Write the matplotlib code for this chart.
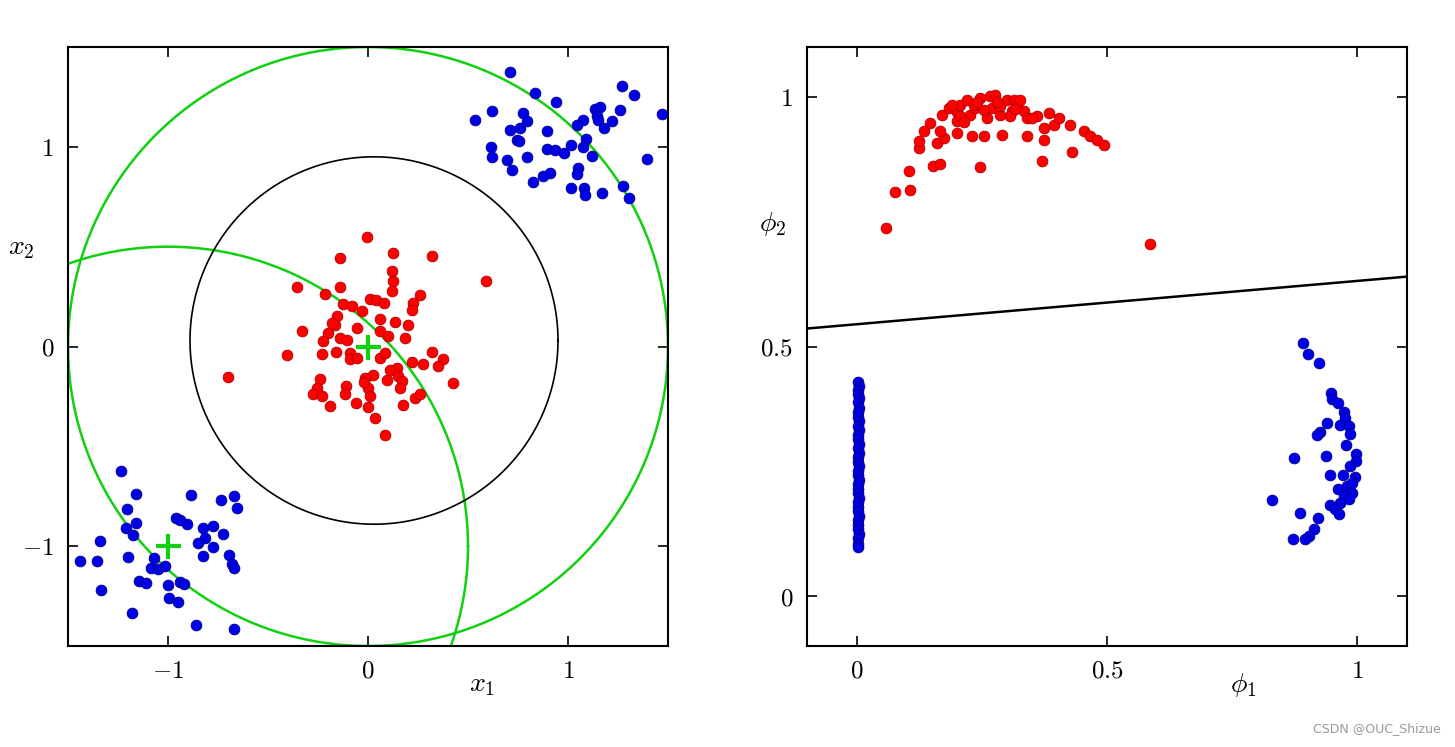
import matplotlib.pyplot as plt
import numpy as np

plt.rcParams['mathtext.fontset'] = 'cm'
plt.rcParams['font.family'] = 'DejaVu Serif'

# left panel: original input space (x1, x2)
red_x = [-0.007, -0.14, 0.127, 0.32, 0.588, 0.118, 0.123, 0.118, -0.357, -0.14,
         -0.215, 0.01, 0.04, 0.082, -0.123, -0.082, -0.032, 0.26, 0.227, 0.218,
         -0.157, -0.165, -0.057, 0.06, 0.135, 0.202, 0.06, 0.102, 0.185, -0.332,
         -0.198, -0.223, -0.14, -0.107, -0.407, -0.232, -0.162, -0.09, -0.09, -0.057,
         0.06, 0.085, 0.322, 0.377, 0.352, 0.218, 0.277, 0.143, 0.152, 0.168,
         0.16, 0.093, 0.027, -0.015, 0.002, 0.01, -0.11, -0.115, -0.24, -0.257,
         -0.273, -0.232, -0.19, -0.06, 0.002, 0.035, 0.085, 0.173, 0.235, 0.26,
         0.423, -0.7, -0.02, 0.11, -0.18]
red_y = [0.547, 0.443, 0.468, 0.455, 0.33, 0.38, 0.327, 0.277, 0.30, 0.298,
         0.265, 0.24, 0.235, 0.217, 0.213, 0.205, 0.18, 0.257, 0.218, 0.185,
         0.152, 0.11, 0.093, 0.14, 0.123, 0.11, 0.08, 0.052, 0.043, 0.08,
         0.068, 0.027, 0.043, 0.035, -0.043, -0.04, -0.027, -0.032, -0.065, -0.057,
         -0.057, -0.032, -0.027, -0.065, -0.098, -0.078, -0.09, -0.107, -0.148, -0.173,
         -0.207, -0.17, -0.143, -0.157, -0.207, -0.248, -0.198, -0.24, -0.165, -0.207,
         -0.24, -0.248, -0.298, -0.285, -0.303, -0.357, -0.443, -0.293, -0.26, -0.237,
         -0.185, -0.155, -0.18, -0.12, 0.12]

blue_x = [0.71, 0.835, 0.938, 1.272, 1.332, 1.468, 0.535, 0.622, 0.773, 0.793,
          0.76, 0.71, 0.743, 0.897, 1.135, 1.16, 1.143, 1.152, 1.26, 1.222,
          1.18, 1.073, 1.043, 1.09, 0.613, 0.618, 0.693, 0.722, 0.793, 0.893,
          0.935, 0.98, 1.015, 1.077, 1.118, 1.052, 1.043, 0.91, 0.877, 0.827,
          1.015, 1.08, 1.085, 1.168, 1.397, 1.277, 1.305, 0.755,
          -1.233, -1.158, -0.887, -0.737, -0.67, -0.655, -1.203, -1.158, -0.958, -0.905,
          -1.208, -1.175, -0.825, -0.775, -0.725, -0.813, -0.85, -0.775, -1.342, -1.442,
          -1.353, -1.2, -1.07, -0.825, -0.695, -0.68, -0.67, -1.087, -1.05, -1.017,
          -1.145, -1.108, -1.0, -0.942, -0.92, -1.333, -0.995, -0.95, -1.178, -0.858,
          -0.672, -0.94]
blue_y = [1.377, 1.272, 1.227, 1.307, 1.258, 1.165, 1.132, 1.177, 1.168, 1.127,
          1.093, 1.085, 1.035, 1.08, 1.188, 1.198, 1.152, 1.132, 1.185, 1.13,
          1.093, 1.135, 1.107, 1.04, 0.998, 0.948, 0.932, 0.885, 0.947, 0.988,
          0.982, 0.968, 1.01, 0.998, 0.955, 0.893, 0.865, 0.868, 0.852, 0.822,
          0.793, 0.793, 0.76, 0.768, 0.938, 0.802, 0.743, 1.03,
          -0.623, -0.74, -0.745, -0.768, -0.748, -0.807, -0.815, -0.882, -0.857, -0.89,
          -0.907, -0.945, -0.907, -0.898, -0.94, -0.957, -0.982, -1.002, -0.973, -1.073,
          -1.073, -1.053, -1.057, -1.048, -1.045, -1.09, -1.107, -1.107, -1.115, -1.098,
          -1.173, -1.182, -1.195, -1.178, -1.19, -1.218, -1.262, -1.282, -1.335, -1.395,
          -1.415, -0.87]

centres_x = [0.0, -1.0]
centres_y = [0.0, -1.0]
basis_radius = 1.5
boundary_cx, boundary_cy, boundary_r = 0.03, 0.03, 0.92

# right panel: feature space (phi1, phi2)
red_p1 = [0.058, 0.076, 0.105, 0.103, 0.151, 0.166, 0.245, 0.369, 0.429, 0.586,
          0.123, 0.123, 0.133, 0.146, 0.159, 0.173, 0.166, 0.169, 0.183, 0.199,
          0.199, 0.199, 0.206, 0.219, 0.229, 0.253, 0.226, 0.236, 0.246, 0.259,
          0.266, 0.269, 0.276, 0.286, 0.289, 0.299, 0.309, 0.313, 0.319, 0.326,
          0.333, 0.339, 0.339, 0.359, 0.373, 0.373, 0.383, 0.393, 0.403, 0.426,
          0.453, 0.466, 0.479, 0.493, 0.349, 0.189, 0.286, 0.306, 0.253, 0.233,
          0.206, 0.213, 0.239, 0.279, 0.316]
red_p2 = [0.737, 0.809, 0.814, 0.851, 0.862, 0.865, 0.859, 0.872, 0.889, 0.705,
          0.897, 0.911, 0.931, 0.947, 0.907, 0.917, 0.931, 0.964, 0.977, 0.927,
          0.951, 0.97, 0.984, 0.994, 0.921, 0.921, 0.964, 0.977, 0.997, 0.957,
          1.001, 0.977, 1.004, 0.964, 0.924, 0.994, 0.971, 0.994, 0.984, 0.994,
          0.971, 0.921, 0.957, 0.961, 0.937, 0.914, 0.967, 0.944, 0.957, 0.943,
          0.931, 0.921, 0.914, 0.904, 0.957, 0.984, 0.981, 0.961, 0.974, 0.984,
          0.961, 0.95, 0.99, 0.99, 0.975]

blue_p1 = [0.891, 0.901, 0.923, 0.947, 0.949, 0.961, 0.973, 0.976, 0.966, 0.983,
           0.986, 0.939, 0.926, 0.919, 0.978, 0.998, 0.998, 0.873, 0.938, 0.946,
           0.971, 0.996, 0.961, 0.979, 0.989, 0.973, 0.983, 0.966, 0.946, 0.956,
           0.963, 0.829, 0.886, 0.921, 0.913, 0.903, 0.896, 0.871, 0.985, 0.99,
           0.002, 0.003, 0.002, 0.001, 0.003, 0.002, 0.004, 0.002, 0.001, 0.003,
           0.002, 0.003, 0.001, 0.002, 0.004, 0.002, 0.003, 0.001, 0.002, 0.003,
           0.002, 0.001, 0.003, 0.002, 0.001, 0.002, 0.003, 0.002, 0.001, 0.002,
           0.003, 0.002, 0.001, 0.002, 0.003, 0.002, 0.002, 0.001]
blue_p2 = [0.507, 0.484, 0.467, 0.407, 0.394, 0.387, 0.369, 0.357, 0.342, 0.341,
           0.324, 0.347, 0.329, 0.322, 0.302, 0.284, 0.271, 0.277, 0.281, 0.242,
           0.242, 0.239, 0.215, 0.221, 0.207, 0.201, 0.194, 0.187, 0.182, 0.174,
           0.164, 0.193, 0.167, 0.157, 0.134, 0.121, 0.114, 0.115, 0.26, 0.226,
           0.428, 0.42, 0.412, 0.405, 0.396, 0.388, 0.376, 0.368, 0.359, 0.35,
           0.341, 0.332, 0.323, 0.314, 0.305, 0.296, 0.287, 0.278, 0.269, 0.26,
           0.251, 0.242, 0.233, 0.224, 0.215, 0.206, 0.197, 0.188, 0.179, 0.17,
           0.161, 0.152, 0.143, 0.134, 0.125, 0.116, 0.104, 0.098]

# decision boundary in feature space
line_p1 = [-0.1, 1.1]
line_p2 = [0.536, 0.64]

left_ticks = [-1, 0, 1]
left_labels = [r'$-1$', r'$0$', r'$1$']
right_ticks = [0, 0.5, 1]
right_labels = [r'$0$', r'$0.5$', r'$1$']

red = '#ff0000'
blue = '#0000e6'
green = '#10d010'
dot = dict(s=60, linewidths=0.6, zorder=3)

fig = plt.figure(figsize=(14.55, 7.47), dpi=100)
ax1 = fig.add_axes([68 / 1455, 101 / 747, 600 / 1455, 599 / 747])
ax2 = fig.add_axes([807 / 1455, 101 / 747, 600 / 1455, 599 / 747])

t = np.linspace(0, 2 * np.pi, 400)
for cx, cy in zip(centres_x, centres_y):
    ax1.plot(cx + basis_radius * np.cos(t), cy + basis_radius * np.sin(t),
             color=green, lw=1.8, zorder=2)
ax1.plot(boundary_cx + boundary_r * np.cos(t), boundary_cy + boundary_r * np.sin(t),
         color='black', lw=1.2, zorder=2)
ax1.scatter(red_x, red_y, c=red, edgecolors='#b00000', **dot)
ax1.scatter(blue_x, blue_y, c=blue, edgecolors='#00008a', **dot)
ax1.plot(centres_x, centres_y, '+', color=green, ms=18, mew=3, ls='none', zorder=4)
ax1.set_xlim(-1.5, 1.5)
ax1.set_ylim(-1.5, 1.5)
ax1.set_xticks(left_ticks)
ax1.set_yticks(left_ticks)
ax1.set_xticklabels(left_labels)
ax1.set_yticklabels(left_labels)

ax2.plot(line_p1, line_p2, color='black', lw=1.8, zorder=2)
ax2.scatter(red_p1, red_p2, c=red, edgecolors='#b00000', **dot)
ax2.scatter(blue_p1, blue_p2, c=blue, edgecolors='#00008a', **dot)
ax2.set_xlim(-0.1, 1.1)
ax2.set_ylim(-0.1, 1.1)
ax2.set_xticks(right_ticks)
ax2.set_yticks(right_ticks)
ax2.set_xticklabels(right_labels)
ax2.set_yticklabels(right_labels)

for ax in (ax1, ax2):
    ax.tick_params(direction='in', top=True, right=True, length=7, width=1.2,
                   labelsize=18, pad=10)
    for s in ax.spines.values():
        s.set_linewidth(1.5)

ax1.text(0.69, -0.065, r'$x_1$', transform=ax1.transAxes, fontsize=20,
         ha='center', va='center')
ax1.text(-0.077, 0.665, r'$x_2$', transform=ax1.transAxes, fontsize=20,
         ha='center', va='center')
ax2.text(0.727, -0.065, r'$\phi_1$', transform=ax2.transAxes, fontsize=20,
         ha='center', va='center')
ax2.text(-0.058, 0.705, r'$\phi_2$', transform=ax2.transAxes, fontsize=20,
         ha='center', va='center')

fig.text(0.99, 0.025, 'CSDN @OUC_Shizue', fontsize=9, color='#999999',
         family='DejaVu Sans', ha='right', va='center')

fig.savefig('out.png', dpi=100)
